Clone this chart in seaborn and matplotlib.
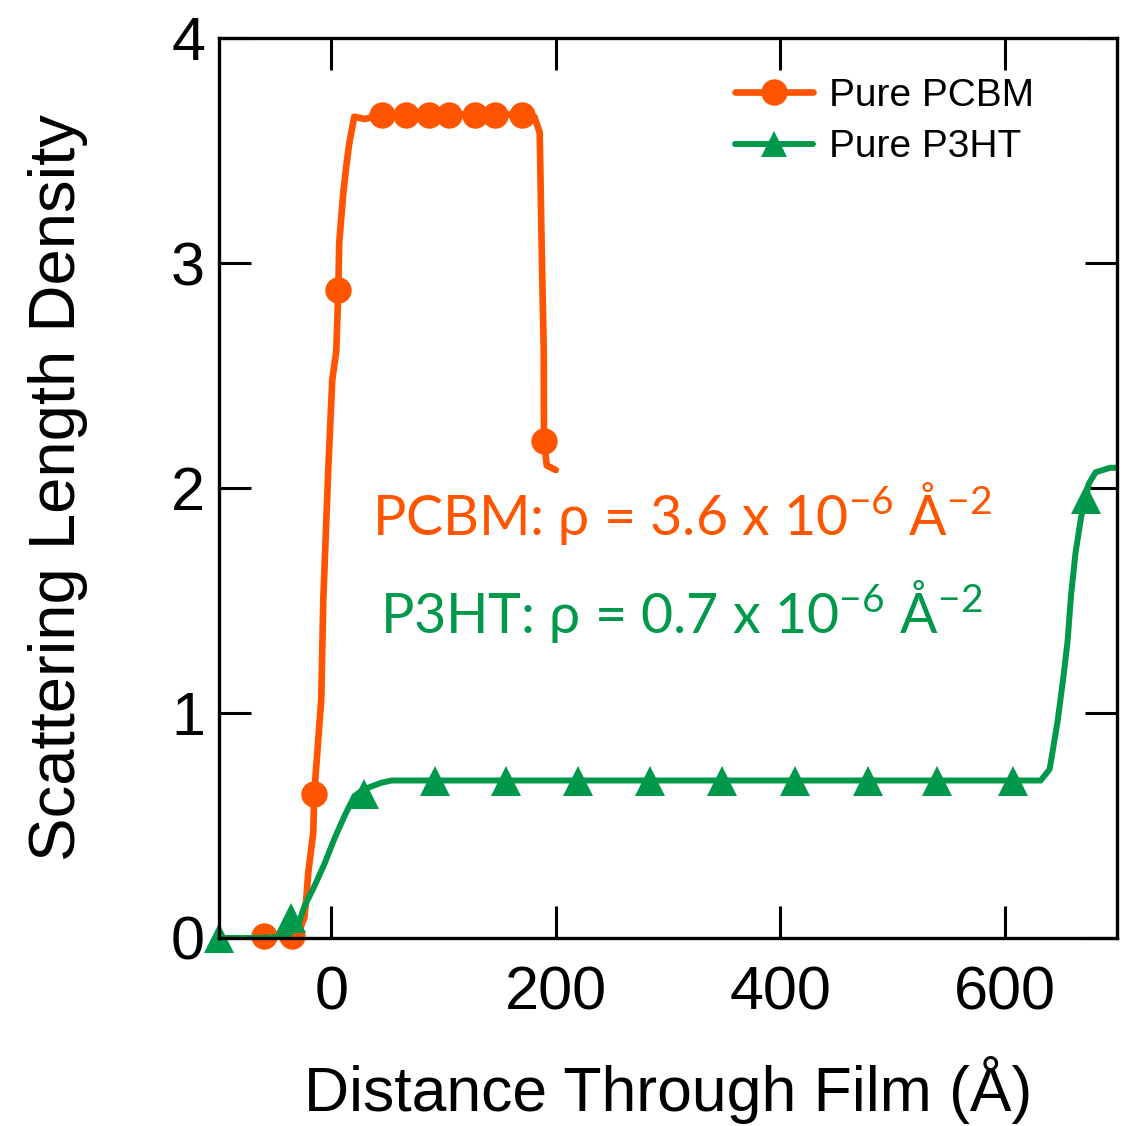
import matplotlib
matplotlib.use("Agg")
import matplotlib.pyplot as plt
from matplotlib.lines import Line2D
import numpy as np
import pandas as pd
import seaborn as sns

# PCBM profile (distance in Angstrom, SLD in 1e-6 A^-2)
pcbm_x = [-60, -45, -35, -29.5, -24, -22.3, -20.5, -16, -15.2, -8.9, -7.1, -2.7, 0.9, 4.5, 6.3, 7.1,
          10.7, 13.4, 16, 20.5, 30, 45, 60, 80, 100, 120, 140, 160, 175, 181, 185.7, 187.5, 189.3,
          189.5, 192, 200]
pcbm_y = [0.01, 0.01, 0.01, 0.02, 0.09, 0.17, 0.29, 0.47, 0.64, 1.06, 1.5, 2.08, 2.48, 2.61, 2.88, 3.09,
          3.31, 3.43, 3.53, 3.65, 3.64, 3.66, 3.66, 3.66, 3.66, 3.66, 3.66, 3.66, 3.66, 3.65, 3.58, 3.06,
          2.61, 2.21, 2.1, 2.08]
pcbm_mx = [-60, -35, -15.2, 6.3, 45, 67, 87, 105, 128, 146, 170, 189.5]
pcbm_my = [0.01, 0.01, 0.64, 2.88, 3.66, 3.66, 3.66, 3.66, 3.66, 3.66, 3.66, 2.21]

# P3HT profile
p3ht_x = [-100, -60, -40, -30, -24, -15, -6, 2.7, 11.6, 20.5, 28.6, 44.6, 53.6, 100, 200, 300, 400,
          500, 600, 632, 640, 643, 647, 652, 656, 659, 663, 668, 672, 675, 681, 694, 705]
p3ht_y = [0.0, 0.0, 0.01, 0.05, 0.14, 0.23, 0.33, 0.44, 0.54, 0.63, 0.66, 0.69, 0.70, 0.70, 0.70, 0.70,
          0.70, 0.70, 0.70, 0.70, 0.75, 0.84, 0.96, 1.15, 1.32, 1.52, 1.71, 1.87, 1.95, 2.02, 2.07, 2.09, 2.09]
p3ht_mx = [-100, -36, 29.5, 92, 156, 220, 284, 348, 413, 478, 540, 607, 672]
p3ht_my = [0.0, 0.09, 0.64, 0.70, 0.70, 0.70, 0.70, 0.70, 0.70, 0.70, 0.70, 0.70, 1.95]

x_ticks = [0, 200, 400, 600]
y_ticks = [0, 1, 2, 3, 4]

orange = "#FF5500"
green = "#00994C"

sns.set_style("ticks", {"axes.edgecolor": "black", "xtick.color": "black", "ytick.color": "black",
                        "text.color": "black", "axes.labelcolor": "black"})
plt.rcParams["font.family"] = ["Liberation Sans", "DejaVu Sans"]
plt.rcParams["mathtext.fontset"] = "custom"
plt.rcParams["mathtext.rm"] = "Lato"
plt.rcParams["mathtext.it"] = "Lato"

fig = plt.figure(figsize=(11.23, 11.26), dpi=100)
ax = fig.add_axes([219 / 1123, 1 - 938 / 1126, 898 / 1123, 900 / 1126])

df_pcbm = pd.DataFrame({"x": pcbm_x, "y": pcbm_y})
df_p3ht = pd.DataFrame({"x": p3ht_x, "y": p3ht_y})

sns.lineplot(data=df_pcbm, x="x", y="y", ax=ax, color=orange, lw=4.8, sort=False, estimator=None)
sns.lineplot(x=pcbm_mx, y=pcbm_my, ax=ax, color=orange, lw=0, marker="o", markersize=19,
             markeredgewidth=0, sort=False, estimator=None, clip_on=False)
sns.lineplot(data=df_p3ht, x="x", y="y", ax=ax, color=green, lw=4.3, sort=False, estimator=None)
sns.lineplot(x=p3ht_mx, y=p3ht_my, ax=ax, color=green, lw=0, marker="^", markersize=22,
             markeredgewidth=0, sort=False, estimator=None, clip_on=False)

ax.set_xlim(-100, 700)
ax.set_ylim(0, 4)
ax.set_xticks(x_ticks)
ax.set_yticks(y_ticks)
for s in ax.spines.values():
    s.set_visible(True)
    s.set_linewidth(2.4)
    s.set_zorder(3)
ax.tick_params(direction="in", length=23, width=2.2, top=True, right=True, labelsize=44,
               colors="black")
ax.tick_params(axis="x", pad=20)
ax.tick_params(axis="y", pad=10)

ax.set_xlabel("Distance Through Film (Å)", fontsize=45, labelpad=24)
ax.set_ylabel("Scattering Length Density", fontsize=47, labelpad=60)

handles = [
    Line2D([], [], color=orange, lw=4.8, marker="o", markersize=19, markeredgewidth=0),
    Line2D([], [], color=green, lw=4.3, marker="^", markersize=19, markeredgewidth=0),
]
ax.legend(handles, ["Pure PCBM", "Pure P3HT"], loc="upper left", bbox_to_anchor=(0.575, 0.956),
          frameon=False, fontsize=28, handlelength=2.0, handletextpad=0.4, labelspacing=0.4,
          borderpad=0, borderaxespad=0)

ax.text(0.170, 0.448, r"PCBM: ρ = 3.6 x 10$^{-6}$ Å$^{-2}$", transform=ax.transAxes,
        color=orange, fontsize=40, family="Lato", va="baseline")
ax.text(0.179, 0.339, r"P3HT: ρ = 0.7 x 10$^{-6}$ Å$^{-2}$", transform=ax.transAxes,
        color=green, fontsize=40, family="Lato", va="baseline")

fig.savefig("out.png", dpi=100)
